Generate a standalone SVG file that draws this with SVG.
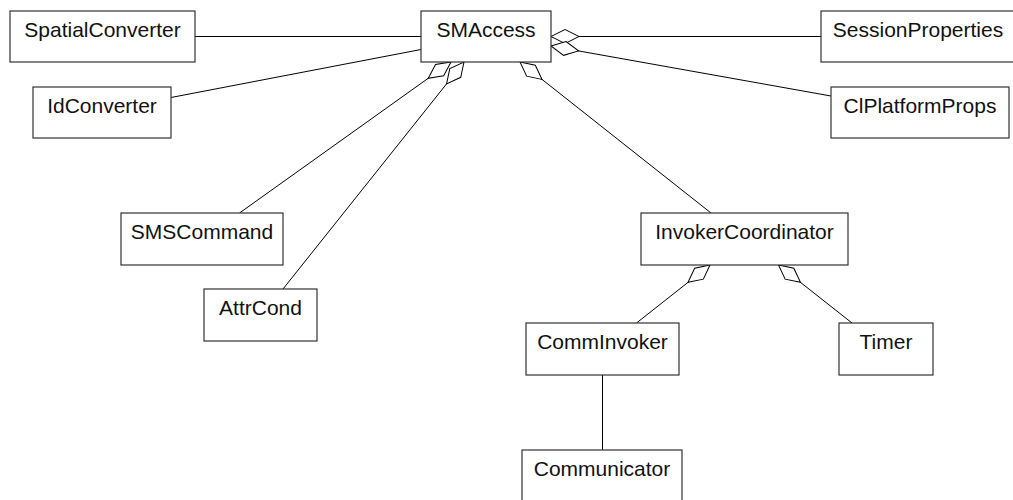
<svg xmlns="http://www.w3.org/2000/svg" width="1013" height="500" viewBox="0 0 1013 500">
  <style>
    .box { fill: #ffffff; stroke: #333333; stroke-width: 1.2; }
    .label { font-family: "Liberation Sans", Arial, sans-serif; font-size: 21px; fill: #111111; text-anchor: middle; }
    .link { fill: none; stroke: #000000; stroke-width: 1; }
    .agg { marker-start: url(#diamond); }
  </style>
  <defs>
    <!-- hollow aggregation diamond, tip placed on the owning class -->
    <marker id="diamond" markerUnits="userSpaceOnUse" markerWidth="30" markerHeight="16" viewBox="-1 -8 30 16" refX="0" refY="0" orient="auto" overflow="visible">
      <path d="M0,0 L14,-7 L28,0 L14,7 Z" fill="#ffffff" stroke="#000000" stroke-width="1"/>
    </marker>
  </defs>

  <rect width="1013" height="500" fill="#ffffff"/>

  <g id="connectors">
    <line class="link" x1="195" y1="36.5" x2="421" y2="36.5"/>
    <line class="link" x1="171" y1="97.5" x2="421" y2="49.5"/>
    <path class="link agg" d="M551,36.5 L821,36.5"/>
    <path class="link agg" d="M551,46 L831,96"/>
    <path class="link agg" d="M451,62 L239.5,213"/>
    <path class="link agg" d="M464,62 L283,289"/>
    <path class="link agg" d="M520,62 L711,213"/>
    <path class="link agg" d="M710,265 L636.5,323"/>
    <path class="link agg" d="M778.5,265 L852,323"/>
    <line class="link" x1="602.5" y1="375" x2="602.5" y2="450"/>
  </g>

  <g id="SpatialConverter">
    <rect class="box" x="10" y="11" width="185" height="51"/>
    <text class="label" x="102.5" y="37">SpatialConverter</text>
  </g>
  <g id="SMAccess">
    <rect class="box" x="421" y="11" width="130" height="51"/>
    <text class="label" x="486" y="37">SMAccess</text>
  </g>
  <g id="SessionProperties">
    <rect class="box" x="821" y="11" width="194" height="51"/>
    <text class="label" x="918" y="37">SessionProperties</text>
  </g>
  <g id="IdConverter">
    <rect class="box" x="33" y="87" width="138" height="51"/>
    <text class="label" x="102" y="113">IdConverter</text>
  </g>
  <g id="ClPlatformProps">
    <rect class="box" x="831" y="87" width="178" height="51"/>
    <text class="label" x="920" y="113">ClPlatformProps</text>
  </g>
  <g id="SMSCommand">
    <rect class="box" x="121" y="213" width="162" height="52"/>
    <text class="label" x="202" y="239">SMSCommand</text>
  </g>
  <g id="AttrCond">
    <rect class="box" x="204" y="289" width="113" height="52"/>
    <text class="label" x="260.5" y="315">AttrCond</text>
  </g>
  <g id="InvokerCoordinator">
    <rect class="box" x="641" y="213" width="207" height="52"/>
    <text class="label" x="744.5" y="239">InvokerCoordinator</text>
  </g>
  <g id="CommInvoker">
    <rect class="box" x="526" y="323" width="153" height="52"/>
    <text class="label" x="602.5" y="349">CommInvoker</text>
  </g>
  <g id="Timer">
    <rect class="box" x="839" y="323" width="94" height="52"/>
    <text class="label" x="886" y="349">Timer</text>
  </g>
  <g id="Communicator">
    <rect class="box" x="522" y="450" width="160" height="52"/>
    <text class="label" x="602" y="476">Communicator</text>
  </g>
</svg>
